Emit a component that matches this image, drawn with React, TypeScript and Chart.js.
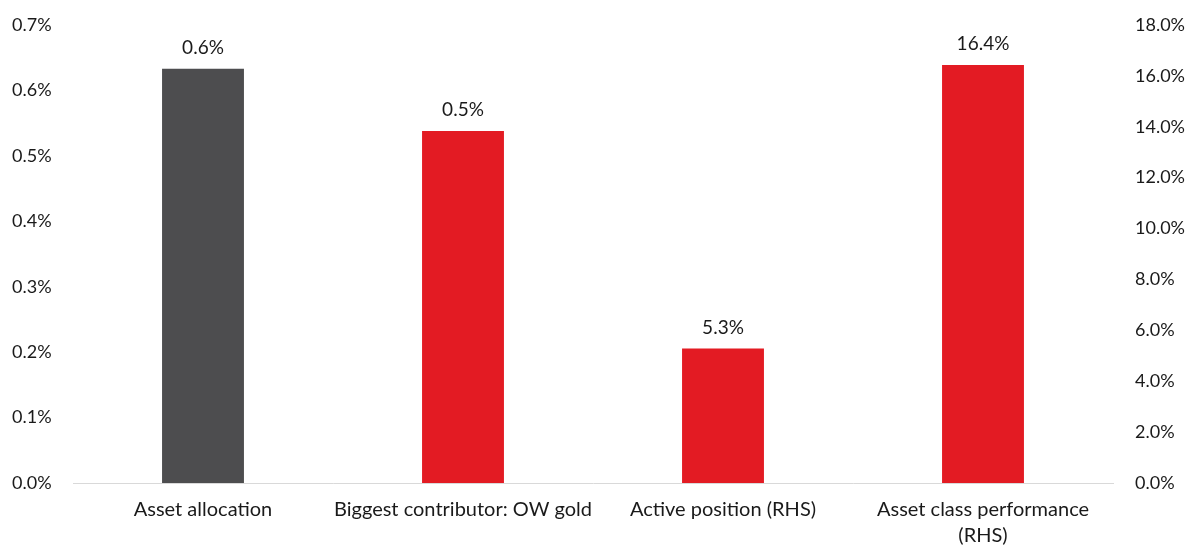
import React, { useEffect, useRef } from "react";
import { Chart, registerables } from "chart.js";

Chart.register(...registerables);

const categories: (string | string[])[] = [
  "Asset allocation",
  "Biggest contributor: OW gold",
  "Active position (RHS)",
  ["Asset class performance", "(RHS)"],
];
const leftValues: (number | null)[] = [0.633, 0.538, null, null];
const rightValues: (number | null)[] = [null, null, 5.29, 16.43];
const leftColors = ["#4d4d4f", "#e31b23", "#e31b23", "#e31b23"];
const rightColor = "#e31b23";
const leftTicksMax = 0.7;
const rightTicksMax = 18;

const FONT = "Lato";
const TEXT = "#1a1a1a";

const valueLabels = {
  id: "valueLabels",
  afterDatasetsDraw(chart: any) {
    const ctx = chart.ctx;
    ctx.save();
    ctx.font = `19px ${FONT}`;
    ctx.fillStyle = TEXT;
    ctx.textAlign = "center";
    ctx.textBaseline = "middle";
    chart.data.datasets.forEach((ds: any, di: number) => {
      const meta = chart.getDatasetMeta(di);
      meta.data.forEach((bar: any, i: number) => {
        const v = ds.data[i];
        if (v === null || v === undefined) return;
        ctx.fillText(v.toFixed(1) + "%", bar.x, bar.y - 21);
      });
    });
    ctx.restore();
  },
};

export default function App() {
  const ref = useRef<HTMLCanvasElement>(null);
  useEffect(() => {
    if (!ref.current) return;
    const chart = new Chart(ref.current, {
      type: "bar",
      data: {
        labels: categories,
        datasets: [
          {
            data: leftValues,
            yAxisID: "y",
            backgroundColor: leftColors,
            grouped: false,
            barPercentage: 0.315,
            categoryPercentage: 1,
          },
          {
            data: rightValues,
            yAxisID: "y1",
            backgroundColor: rightColor,
            grouped: false,
            barPercentage: 0.315,
            categoryPercentage: 1,
          },
        ],
      } as any,
      options: {
        animation: false,
        responsive: true,
        maintainAspectRatio: false,
        layout: { padding: { left: 12, right: 0, top: 25, bottom: 0 } },
        plugins: { legend: { display: false }, tooltip: { enabled: false } },
        scales: {
          x: {
            grid: { display: false, drawTicks: false },
            border: { display: true, color: "#d9d9d9", width: 1 },
            ticks: {
              padding: 14,
              color: TEXT,
              font: { family: FONT, size: 20, lineHeight: 1.3 },
              maxRotation: 0,
              autoSkip: false,
            },
            afterFit: (s: any) => {
              s.height = 64;
            },
          },
          y: {
            position: "left",
            min: 0,
            max: leftTicksMax,
            grid: { display: false, drawTicks: false },
            border: { display: false },
            ticks: {
              stepSize: 0.1,
              crossAlign: "far",
              color: TEXT,
              font: { family: FONT, size: 18 },
              callback: (v: any) => Number(v).toFixed(1) + "%",
            },
            afterFit: (s: any) => {
              s.width = 61;
              s.paddingTop = 0;
              s.paddingBottom = 0;
            },
          },
          y1: {
            position: "right",
            min: 0,
            max: rightTicksMax,
            grid: { display: false, drawTicks: false },
            border: { display: false },
            ticks: {
              stepSize: 2,
              padding: 22,
              color: TEXT,
              font: { family: FONT, size: 18 },
              callback: (v: any) => Number(v).toFixed(1) + "%",
            },
            afterFit: (s: any) => {
              s.width = 78;
              s.paddingTop = 0;
              s.paddingBottom = 0;
            },
          },
        },
      } as any,
      plugins: [valueLabels],
    });
    return () => chart.destroy();
  }, []);
  return (
    <div
      style={{
        position: "fixed",
        left: 0,
        top: 0,
        width: 1191,
        height: 547,
        background: "#fff",
      }}
    >
      <canvas ref={ref} />
    </div>
  );
}
